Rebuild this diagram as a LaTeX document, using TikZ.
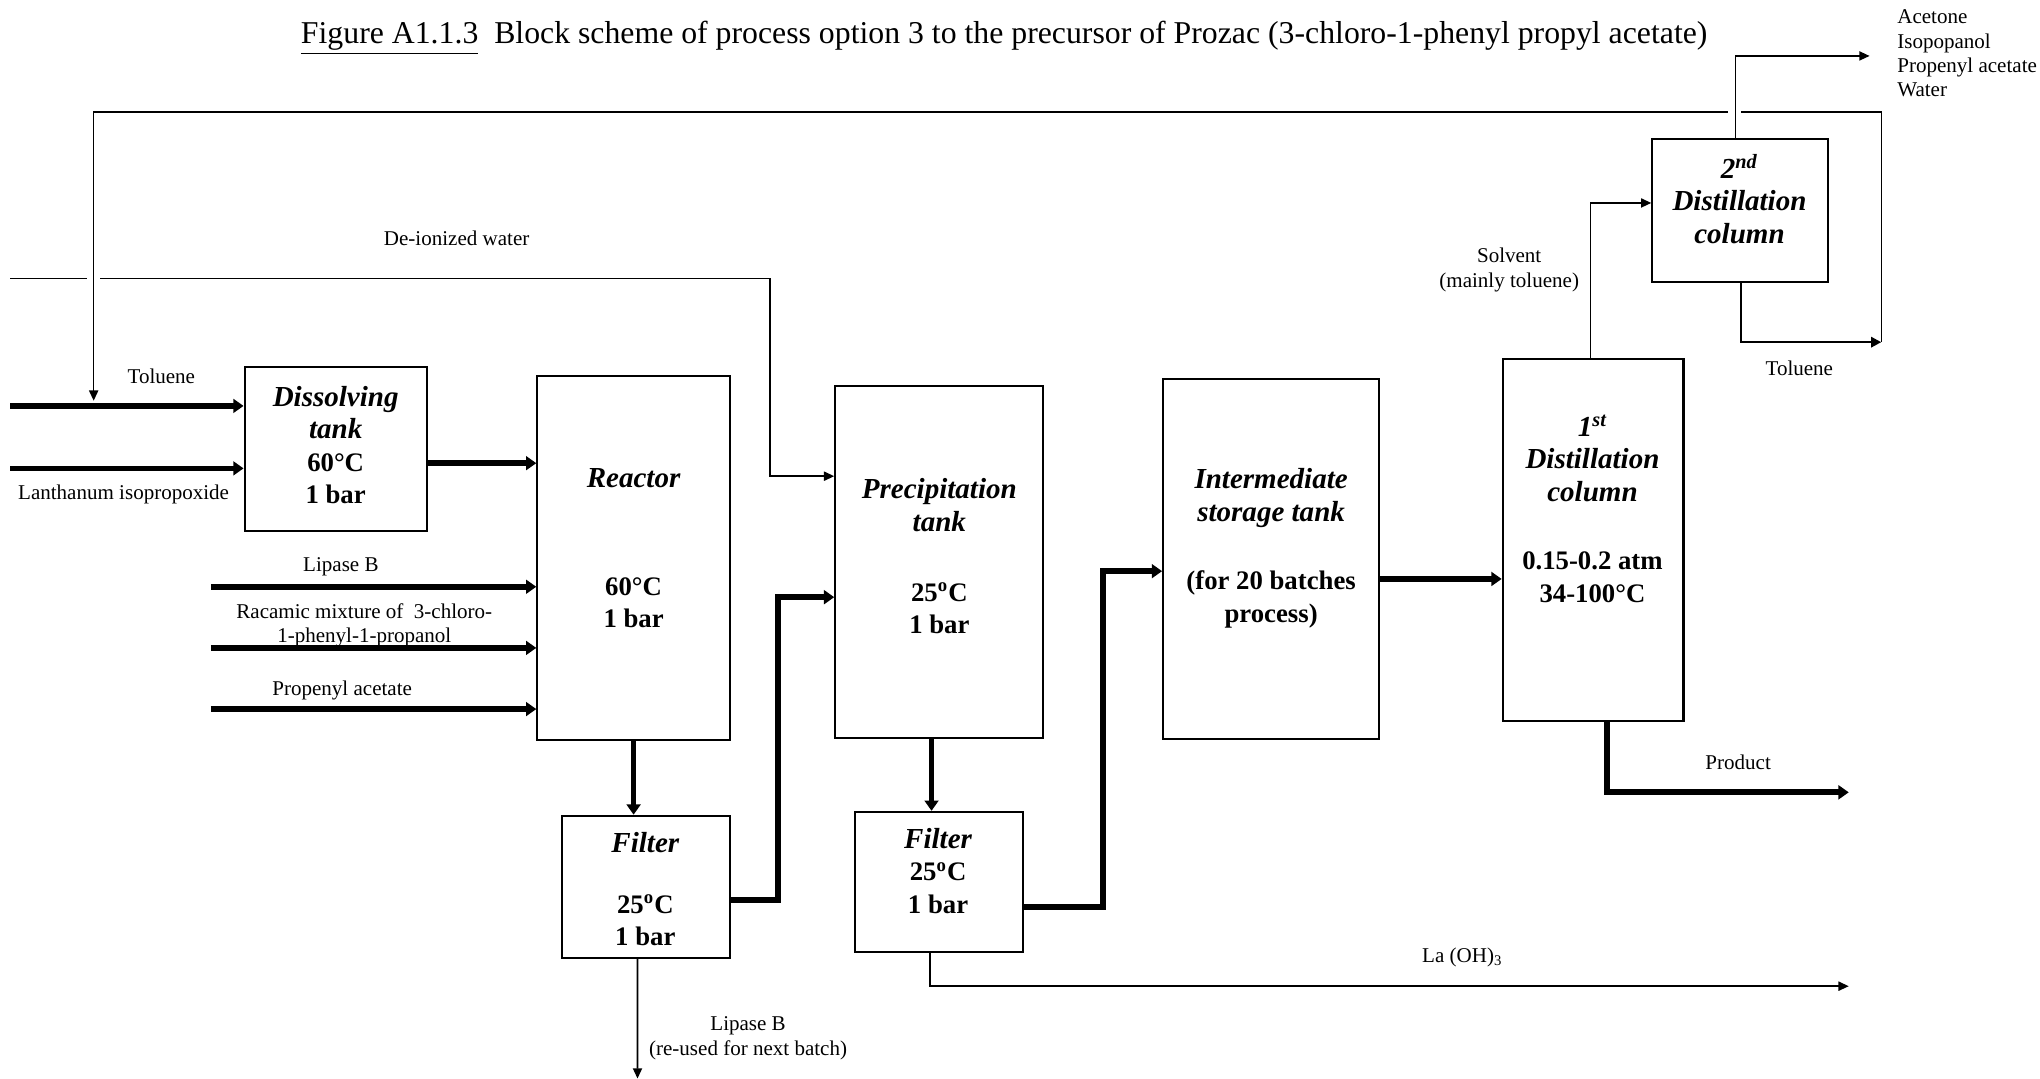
\documentclass[tikz,border=0pt]{standalone}
\usepackage{fontspec}
\setmainfont{Liberation Serif}
\usetikzlibrary{arrows.meta,positioning}

\newcommand{\unitname}[1]{{\fontsize{12.7}{14.2}\selectfont\itshape #1}}

\begin{document}
\begin{tikzpicture}[
    x=0.02cm, y=-0.02cm,
    unit/.style={draw, line width=0.9pt, inner sep=0pt},
    unittxt/.style={align=center, inner sep=0pt, font=\bfseries\fontsize{11.7}{14.2}\selectfont},
    lbl/.style={align=center, inner sep=0pt, font=\fontsize{9.2}{10.6}\selectfont},
    thickarr/.style={line width=2.5pt, -{Triangle[length=4.5pt, width=6pt]}},
    thinarr/.style={line width=0.7pt, -{Triangle[length=4.5pt, width=4pt]}},
    tolarr/.style={line width=1.1pt, -{Triangle[length=4.5pt, width=4.5pt]}},
    thinline/.style={line width=0.7pt}
  ]
    \useasboundingbox (0,0) rectangle (1568,829);

    % Title
    \node[anchor=west, inner sep=0pt, font=\fontsize{13.9}{16}\selectfont] (title) at (231,29)
      {\underline{Figure A1.1.3}\ \ Block scheme of process option 3 to the precursor of Prozac (3-chloro-1-phenyl propyl acetate)};

    % Units
    \node[unit, minimum width=2.80cm, minimum height=2.52cm] (dissolve) at (258,345) {};
    \node[unit, minimum width=2.96cm, minimum height=5.60cm] (reactor)  at (487,429) {};
    \node[unit, minimum width=2.58cm, minimum height=2.18cm] (filter1)  at (496.5,681.5) {};
    \node[unit, minimum width=3.20cm, minimum height=5.40cm] (precip)   at (722,432) {};
    \node[unit, minimum width=2.58cm, minimum height=2.16cm] (filter2)  at (721.5,678) {};
    \node[unit, minimum width=3.32cm, minimum height=5.54cm] (inter)    at (977,429.5) {};
    \node[unit, minimum width=2.78cm, minimum height=5.56cm] (dist1)    at (1224.5,415) {};
    \node[unit, minimum width=2.70cm, minimum height=2.20cm] (dist2)    at (1337.5,162) {};

    % Texts of the units
    \node[unittxt] (dissolve-txt) at (258,342) {\unitname{Dissolving}\\\unitname{tank}\\60°C\\1 bar};
    \node[unittxt] (reactor-txt)  at (487,421.5) {\unitname{Reactor}\\[32.9pt]60°C\\1 bar};
    \node[unittxt] (filter1-txt)  at (496,683.5) {\unitname{Filter}\\[12.4pt]25\textsuperscript{o}C\\1 bar};
    \node[unittxt] (precip-txt)   at (722,427.5) {\unitname{Precipitation}\\\unitname{tank}\\[16.4pt]25\textsuperscript{o}C\\1 bar};
    \node[unittxt] (filter2-txt)  at (721,669.5) {\unitname{Filter}\\25\textsuperscript{o}C\\1 bar};
    \node[unittxt] (inter-txt)    at (977,421.5) {\unitname{Intermediate}\\\unitname{storage tank}\\[15.8pt](for 20 batches\\process)};
    \node[unittxt] (dist1-txt)    at (1224,391) {\unitname{1\textsuperscript{st}}\\\unitname{Distillation}\\\unitname{column}\\[15.8pt]0.15-0.2 atm\\34-100°C};
    \node[unittxt] (dist2-txt)    at (1337,153) {\unitname{2\textsuperscript{nd}}\\\unitname{Distillation}\\\unitname{column}};

    % Stream labels
    \node[lbl] (deion-lbl)    at (351,183) {De-ionized water};
    \node[lbl] (tol-lbl)      at (124,289) {Toluene};
    \node[lbl] (lanth-lbl)    at (95,380) {Lanthanum isopropoxide};
    \node[lbl] (lipase-lbl)   at (262,436) {Lipase B};
    \node[lbl] (racem-lbl)    at (280,480.5) {Racamic mixture of~ 3-chloro-\\1-phenyl-1-propanol};
    \node[lbl] (propenyl-lbl) at (263,531) {Propenyl acetate};
    \node[lbl] (lipout-lbl)   at (575,798) {Lipase B\\(re-used for next batch)};
    \node[lbl] (la-lbl)       at (1124,736) {La (OH)\textsubscript{3}};
    \node[lbl] (prod-lbl)     at (1336,586) {Product};
    \node[lbl] (solv-lbl)     at (1160,207.5) {Solvent\\(mainly toluene)};
    \node[lbl] (tolret-lbl)   at (1383,283) {Toluene};
    \node[lbl, align=left, anchor=west] (lights-lbl) at (1458,41) {Acetone\\Isopopanol\\Propenyl acetate\\Water};

    % Stream end and bend points
    \coordinate (tolin)     at (8,312);
    \coordinate (lanthin)   at (8,360);
    \coordinate (lipin)     at (162,451);
    \coordinate (racin)     at (162,498);
    \coordinate (propin)    at (162,545);
    \coordinate (deionin)   at (8,214);
    \coordinate (deiongapL) at (67,214);
    \coordinate (deiongapR) at (77,214);
    \coordinate (deionbend) at (592,214);
    \coordinate (recycW)    at (72,86);
    \coordinate (recycE)    at (1446,86);
    \coordinate (recycgapL) at (1328,86);
    \coordinate (recycgapR) at (1338,86);
    \coordinate (f1bend)    at (598,459);
    \coordinate (f2bend)    at (848,439);
    \coordinate (lipout)    at (490,829);
    \coordinate (laout)     at (1421,758);
    \coordinate (prodout)   at (1421,609);
    \coordinate (vapout)    at (1437,43);
    \coordinate (tolret)    at (1446,263);

    % Main (thick) streams
    \draw[thickarr] (tolin) -- (tolin -| dissolve.west);
    \draw[thickarr] (lanthin) -- (lanthin -| dissolve.west);
    \draw[thickarr] (dissolve.east |- 0,356) -- (reactor.west |- 0,356);
    \draw[thickarr] (lipin) -- (lipin -| reactor.west);
    \draw[thickarr] (racin) -- (racin -| reactor.west);
    \draw[thickarr] (propin) -- (propin -| reactor.west);
    \draw[thickarr] (reactor.south) -- (reactor.south |- filter1.north);
    \draw[thickarr] (filter1.east |- 0,692) -| (f1bend) -- (f1bend -| precip.west);
    \draw[thickarr] ([xshift=-0.12cm]precip.south) -- ([xshift=-0.12cm]precip.south |- filter2.north);
    \draw[thickarr] (filter2.east |- 0,697) -| (f2bend) -- (f2bend -| inter.west);
    \draw[thickarr] (inter.east |- 0,445) -- (dist1.west |- 0,445);
    \draw[thickarr] ([xshift=0.21cm]dist1.south) |- (prodout);

    % De-ionized water
    \draw[thinline] (deionin) -- (deiongapL);
    \draw[thinarr] (deiongapR) -- (deionbend) -- (deionbend |- 0,366) -- (precip.west |- 0,366);

    % Solvent recovery and toluene recycle
    \draw[thinarr] ([xshift=-0.04cm]dist1.north) |- (dist2.west |- 0,156);
    \draw[thinarr] ([xshift=-0.07cm]dist2.north) |- (vapout);
    \draw[tolarr] ([xshift=0.01cm]dist2.south) |- (tolret);
    \draw[thinline] (tolret) -- (recycE) -- (recycgapR);
    \draw[thinarr] (recycgapL) -- (recycW) -- (recycW |- 0,308);

    % Filter outlets
    \draw[thinarr] ([xshift=-0.13cm]filter1.south) -- (lipout);
    \draw[thinarr] ([xshift=-0.13cm]filter2.south) |- (laout);
  \end{tikzpicture}
\end{document}
